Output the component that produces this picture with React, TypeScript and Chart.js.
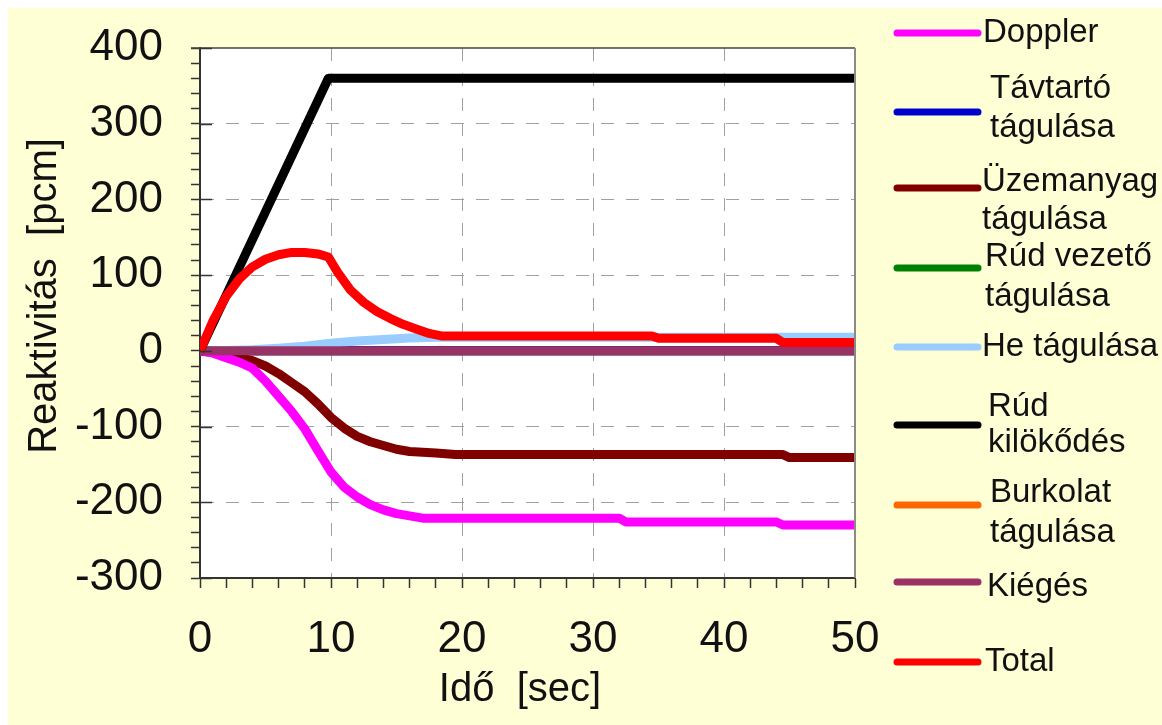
import React, { useEffect, useRef } from "react";
import { Chart, registerables } from "chart.js";

Chart.register(...registerables);

// ---------- data ----------
const seriesNames = [
  "Doppler",
  "Távtartó tágulása",
  "Üzemanyag tágulása",
  "Rúd vezető tágulása",
  "He tágulása",
  "Rúd kilökődés",
  "Burkolat tágulása",
  "Kiégés",
  "Total",
];
const legendLabelLines = [
  ["Doppler"],
  ["Távtartó", "tágulása"],
  ["Üzemanyag", "tágulása"],
  ["Rúd vezető", "tágulása"],
  ["He tágulása"],
  ["Rúd", "kilökődés"],
  ["Burkolat", "tágulása"],
  ["Kiégés"],
  ["Total"],
];
const seriesColors = [
  "#FF00FF",
  "#0000CC",
  "#800000",
  "#008000",
  "#99CCFF",
  "#000000",
  "#FF6600",
  "#993366",
  "#FF0000",
];

const dopplerT = [0, 1, 2, 3, 4, 5, 6, 7, 8, 9, 10, 11, 12, 13, 14, 15, 16, 17, 32, 32.5, 44, 44.5, 50];
const dopplerV = [0, -3, -9, -15, -23, -40, -60, -80, -103, -132, -160, -180, -193, -203, -210, -215, -218, -221, -221, -226, -226, -230, -230];

const spacerT = [0, 50];
const spacerV = [0, 0];

const fuelT = [0, 1, 2, 3, 4, 5, 6, 7, 8, 9, 10, 11, 12, 13, 14, 15, 16, 18, 19.5, 44.5, 45, 50];
const fuelV = [0, -2, -6, -9, -13, -20, -30, -42, -54, -70, -88, -102, -113, -120, -125, -130, -133, -135, -137, -137, -141, -141];

const guideT = [0, 50];
const guideV = [0, 0];

const heT = [0, 2, 4, 6, 8, 10, 12, 14, 16, 18, 50];
const heV = [0, 0.5, 1.5, 3.5, 6, 10, 13, 15, 17, 18, 18];

const rodT = [0, 9.8, 50];
const rodV = [0, 360, 360];

const claddingT = [0, 50];
const claddingV = [0, 0];

const burnupT = [0, 50];
const burnupV = [0, 0];

const totalT = [0, 0.5, 1, 2, 3, 4, 5, 6, 7, 8, 9, 9.8, 10.5, 11.5, 12.5, 13.5, 14.5, 15.5, 16.5, 17.5, 18.5, 34.5, 35, 44, 44.5, 50];
const totalV = [0, 20, 40, 72, 95, 111, 121, 127, 130, 130, 128, 124, 104, 80, 64, 52, 43, 35, 29, 23, 19.5, 19.5, 16.5, 16.5, 11, 11];

const seriesTimes = [dopplerT, spacerT, fuelT, guideT, heT, rodT, claddingT, burnupT, totalT];
const seriesValues = [dopplerV, spacerV, fuelV, guideV, heV, rodV, claddingV, burnupV, totalV];
// drawing order: lower = on top
const seriesOrder = [3, 7, 4, 8, 6, 1, 9, 2, 0];

const xMin = 0;
const xMax = 50;
const xMinorStep = 2;
const xMajorStep = 10;
const yMin = -300;
const yMax = 400;
const yMinorStep = 20;
const yMajorStep = 100;

const xTitle = "Idő  [sec]";
const yTitle = "Reaktivitás  [pcm]";

// ---------- layout / style ----------
const W = 1154;
const H = 717;
const FONT = "'Liberation Sans', Arial, sans-serif";
const BG = "#FFFFD6";
const legendLayout = [
  { lineY: 25, textX: 975, textY: [25] },
  { lineY: 104, textX: 982, textY: [81, 120] },
  { lineY: 180, textX: 974, textY: [174, 212] },
  { lineY: 260, textX: 977, textY: [249, 289] },
  { lineY: 339, textX: 974, textY: [339] },
  { lineY: 417, textX: 980, textY: [399, 435] },
  { lineY: 497, textX: 982, textY: [485, 525] },
  { lineY: 574, textX: 979, textY: [579] },
  { lineY: 654, textX: 977, textY: [654] },
];
const LEGEND_X1 = 889;
const LEGEND_X2 = 970;

const decorPlugin = {
  id: "decor",
  beforeDraw(chart: any) {
    const { ctx, chartArea } = chart;
    ctx.save();
    ctx.fillStyle = BG;
    ctx.fillRect(0, 0, chart.width, chart.height);
    ctx.fillStyle = "#FFFFFF";
    ctx.fillRect(chartArea.left, chartArea.top, chartArea.right - chartArea.left, chartArea.bottom - chartArea.top);
    ctx.restore();
  },
  afterDraw(chart: any) {
    const { ctx, chartArea } = chart;
    const yScale = chart.scales.y;
    ctx.save();
    // top and right frame
    ctx.strokeStyle = "#444";
    ctx.lineWidth = 1.5;
    ctx.beginPath();
    ctx.moveTo(chartArea.left - 9, chartArea.top);
    ctx.lineTo(chartArea.right, chartArea.top);
    ctx.stroke();
    ctx.strokeStyle = "#8a8a8a";
    ctx.lineWidth = 2;
    ctx.beginPath();
    ctx.moveTo(chartArea.right, chartArea.top);
    ctx.lineTo(chartArea.right, chartArea.bottom);
    ctx.stroke();
    // inner stubs of major y ticks
    ctx.strokeStyle = "#333";
    ctx.lineWidth = 1.5;
    for (let v = yMin; v <= yMax; v += yMajorStep) {
      const py = Math.round(yScale.getPixelForValue(v)) + 0.5;
      ctx.beginPath();
      ctx.moveTo(chartArea.left, py);
      ctx.lineTo(chartArea.left + 12, py);
      ctx.stroke();
    }
    // axis titles
    ctx.fillStyle = "#111";
    ctx.font = `40px ${FONT}`;
    ctx.textAlign = "center";
    ctx.textBaseline = "middle";
    ctx.fillText(xTitle, 512, 682);
    ctx.save();
    ctx.translate(37, 288);
    ctx.rotate(-Math.PI / 2);
    ctx.fillText(yTitle, 0, 0);
    ctx.restore();
    // legend
    ctx.lineCap = "round";
    ctx.font = `33px ${FONT}`;
    ctx.textAlign = "left";
    chart.data.datasets.forEach((ds: any, i: number) => {
      const lay = legendLayout[i];
      ctx.strokeStyle = ds.borderColor;
      ctx.lineWidth = 7;
      ctx.beginPath();
      ctx.moveTo(LEGEND_X1, lay.lineY);
      ctx.lineTo(LEGEND_X2, lay.lineY);
      ctx.stroke();
      ctx.fillStyle = "#111";
      legendLabelLines[i].forEach((line, j) => {
        ctx.fillText(line, lay.textX, lay.textY[j]);
      });
    });
    ctx.restore();
  },
};

export default function App() {
  const ref = useRef<HTMLCanvasElement | null>(null);
  useEffect(() => {
    if (!ref.current) return;
    const datasets = seriesNames.map((name, i) => ({
      label: name,
      data: seriesTimes[i].map((t, k) => ({ x: t, y: seriesValues[i][k] })),
      borderColor: seriesColors[i],
      backgroundColor: seriesColors[i],
      borderWidth: 9,
      pointRadius: 0,
      tension: 0,
      fill: false,
      order: seriesOrder[i],
      borderJoinStyle: "round" as const,
    }));
    const chart = new Chart(ref.current, {
      type: "line",
      data: { datasets },
      plugins: [decorPlugin],
      options: {
        animation: false,
        responsive: false,
        devicePixelRatio: 1,
        layout: { padding: { left: 0, top: 40, right: 307, bottom: 0 } },
        plugins: { legend: { display: false }, tooltip: { enabled: false } },
        scales: {
          x: {
            type: "linear",
            min: xMin,
            max: xMax,
            afterFit(scale: any) {
              scale.height = 147;
              scale.paddingLeft = 0;
              scale.paddingRight = 0;
            },
            ticks: {
              stepSize: xMinorStep,
              autoSkip: false,
              maxRotation: 0,
              maxTicksLimit: 100,
              padding: 25,
              color: "#111",
              font: { family: FONT, size: 44 },
              callback: (v: any) => (Number(v) % xMajorStep === 0 ? String(v) : ""),
            },
            grid: {
              color: (c: any) => {
                const v = c.tick ? c.tick.value : 0;
                return v % xMajorStep === 0 && v > xMin && v < xMax ? "#a0a0a0" : "rgba(0,0,0,0)";
              },
              lineWidth: 1,
              tickColor: "#333",
              tickLength: 10,
              tickWidth: 1.5,
            },
            border: { display: true, color: "#333", width: 2, dash: [13, 12] },
          },
          y: {
            type: "linear",
            min: yMin,
            max: yMax,
            afterFit(scale: any) {
              scale.width = 192;
              scale.paddingTop = 0;
              scale.paddingBottom = 0;
            },
            ticks: {
              stepSize: yMinorStep,
              autoSkip: false,
              maxTicksLimit: 100,
              padding: 28,
              color: "#111",
              font: { family: FONT, size: 44 },
              callback: (v: any) => (Number(v) % yMajorStep === 0 ? String(v) : ""),
            },
            grid: {
              color: (c: any) => {
                const v = c.tick ? c.tick.value : 0;
                return v % yMajorStep === 0 && v > yMin && v < yMax ? "#a0a0a0" : "rgba(0,0,0,0)";
              },
              lineWidth: 1,
              tickColor: "#333",
              tickLength: 9,
              tickWidth: 1.5,
            },
            border: { display: true, color: "#333", width: 2, dash: [13, 12] },
          },
        },
      },
    });
    return () => chart.destroy();
  }, []);

  return (
    <div style={{ position: "fixed", left: 8, top: 8, width: W, height: H, background: BG }}>
      <canvas ref={ref} width={W} height={H} style={{ display: "block", width: W, height: H }} />
    </div>
  );
}
